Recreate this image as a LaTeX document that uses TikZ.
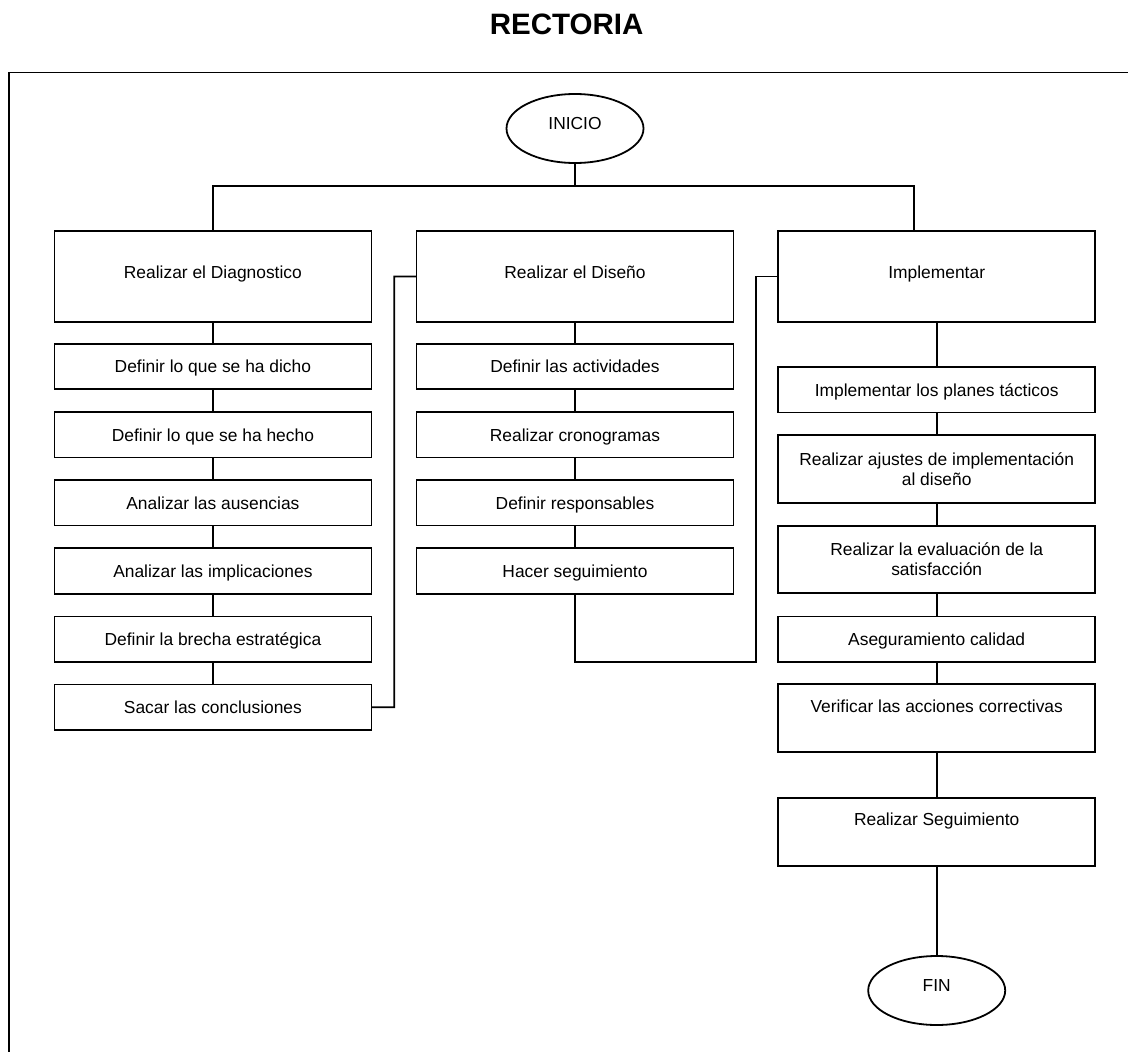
\documentclass[tikz,border=0pt]{standalone}
\usepackage{fontspec}
\setmainfont{Liberation Sans}
\usetikzlibrary{shapes.geometric}
\begin{document}
\begin{tikzpicture}[x=1pt,y=-1pt,
  every node/.style={inner sep=0pt, outer sep=0pt, font=\fontsize{17.4pt}{20pt}\selectfont},
  box/.style={draw, rectangle, minimum width=317pt, line width=1.8pt},
  big/.style={box, minimum height=90.7pt, text height=12pt, text depth=8.6pt},
  small/.style={box, minimum height=45.3pt, text height=12.4pt, text depth=0pt},
  two/.style={box, minimum height=67.7pt, align=center},
  toptext/.style={box, minimum height=68pt, text height=6pt, text depth=17.6pt},
  term/.style={draw, ellipse, line width=1.8pt, minimum width=137pt, minimum height=69pt, text height=10pt, text depth=8.8pt},
  link/.style={draw, line width=1.8pt}
]
\useasboundingbox (0,0) rectangle (1128,1052);

% title
\node[anchor=base, font=\bfseries\fontsize{29.5pt}{34pt}\selectfont] (title) at (566.7,34.3) {RECTORIA};

% frame
\draw[line width=1.2pt] (1128,72.3) -| (8.9,1052);

% start
\node[term] (inicio) at (575,128.5) {INICIO};

% top row
\node[big] (diag) at (212.9,276.4) {Realizar el Diagnostico};
\node[big] (dise) at (575,276.4) {Realizar el Diseño};
\node[big] (impl) at (936.7,276.4) {Implementar};

% left column
\node[small] (l1) at (212.9,366.7) {Definir lo que se ha dicho};
\node[small] (l2) at (212.9,434.8) {Definir lo que se ha hecho};
\node[small] (l3) at (212.9,502.9) {Analizar las ausencias};
\node[small] (l4) at (212.9,571.0) {Analizar las implicaciones};
\node[small] (l5) at (212.9,639.1) {Definir la brecha estratégica};
\node[small] (l6) at (212.9,707.2) {Sacar las conclusiones};

% middle column
\node[small] (m1) at (575,366.7) {Definir las actividades};
\node[small] (m2) at (575,434.8) {Realizar cronogramas};
\node[small] (m3) at (575,502.9) {Definir responsables};
\node[small] (m4) at (575,571.0) {Hacer seguimiento};

% right column
\node[small] (r1) at (936.7,389.8) {Implementar los planes tácticos};
\node[two] (r2) at (936.7,468.9) {Realizar ajustes de implementación\\al diseño};
\node[two] (r3) at (936.7,559.5) {Realizar la evaluación de la\\satisfacción};
\node[small] (r4) at (936.7,639.2) {Aseguramiento calidad};
\node[toptext] (r5) at (936.7,718.3) {Verificar las acciones correctivas};
\node[toptext] (r6) at (936.7,831.7) {Realizar Seguimiento};

% end
\node[term] (fin) at (936.7,990.5) {FIN};

% junction coordinates
\coordinate (bus) at (575,186);
\coordinate (busR) at (914.3,231);
\coordinate (j1) at (394.3,276.5);
\coordinate (j2) at (756,661.7);

% connectors
\draw[link] (inicio.south) -- (bus);
\draw[link] (diag.north) |- (bus) -| (busR);
\draw[link] (diag) -- (l1);
\draw[link] (l1) -- (l2);
\draw[link] (l2) -- (l3);
\draw[link] (l3) -- (l4);
\draw[link] (l4) -- (l5);
\draw[link] (l5) -- (l6);
\draw[link] (l6.east) -| (j1) -- (dise.west);
\draw[link] (dise) -- (m1);
\draw[link] (m1) -- (m2);
\draw[link] (m2) -- (m3);
\draw[link] (m3) -- (m4);
\draw[link] (m4.south) |- (j2) |- (impl.west);
\draw[link] (impl) -- (r1);
\draw[link] (r1) -- (r2);
\draw[link] (r2) -- (r3);
\draw[link] (r3) -- (r4);
\draw[link] (r4) -- (r5);
\draw[link] (r5) -- (r6);
\draw[link] (r6) -- (fin);
\end{tikzpicture}
\end{document}
